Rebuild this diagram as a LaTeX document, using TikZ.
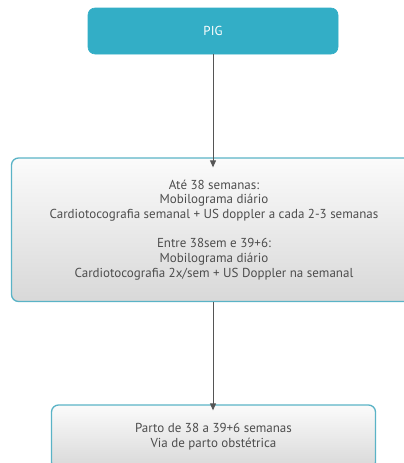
\documentclass[tikz,border=0pt]{standalone}
\usepackage{fontspec}
\setmainfont{PT Sans}
\usetikzlibrary{arrows.meta}
\definecolor{teal}{HTML}{33AEC6}
\definecolor{edge}{HTML}{5AB3C6}
\definecolor{txt}{HTML}{4D4D4D}
\definecolor{arr}{HTML}{555555}
\definecolor{gtop}{HTML}{FBFBFB}
\definecolor{gbot}{HTML}{D8D8D8}
\tikzset{
  topbox/.style={draw=teal, line width=0.6pt, fill=teal, rounded corners=7pt, text=white, font=\fontsize{13}{14}\selectfont},
  graybox/.style={draw=edge, line width=1.3pt, top color=gtop, bottom color=gbot, rounded corners=7pt, text=txt, align=center, font=\fontsize{13}{14.8}\selectfont},
  conn/.style={draw=arr, line width=0.9pt, -{Triangle[length=7pt,width=6pt]}}
}
\begin{document}
\begin{tikzpicture}[x=1pt,y=-1pt]
\useasboundingbox (0,0) rectangle (404,463);
\clip (0,0) rectangle (404,463);
\node[topbox, minimum width=250pt, minimum height=46pt] (pig) at (213,31) {PIG};
\node[graybox, minimum width=405pt, minimum height=143.5pt] (mid) at (214,229.75) {Até 38 semanas:\\Mobilograma diário\\Cardiotocografia semanal + US doppler a cada 2-3 semanas\\[14pt]Entre 38sem e 39+6:\\Mobilograma diário\\Cardiotocografia 2x/sem + US Doppler na semanal};
\node[graybox, minimum width=324pt, minimum height=64pt] (bot) at (213.5,437) {Parto de 38 a 39+6 semanas\\Via de parto obstétrica};
\draw[conn] (pig.south -| 213,0) -- ([yshift=-10pt]mid.north -| 213,0);
\draw[conn] (mid.south -| 213,0) -- ([yshift=-6pt]bot.north -| 213,0);
\end{tikzpicture}
\end{document}
